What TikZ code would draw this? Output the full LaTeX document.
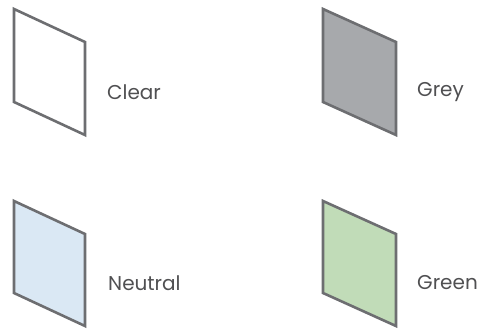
\documentclass[tikz,border=0pt]{standalone}
\usepackage{fontspec}
\setmainfont{Poppins}
\definecolor{edge}{HTML}{6D6E71}
\definecolor{txt}{HTML}{505052}
\definecolor{greyfill}{HTML}{A7A9AC}
\definecolor{neutralfill}{HTML}{DAE8F4}
\definecolor{greenfill}{HTML}{C1DCB8}
\tikzset{
  pane/.style={draw=edge, line width=2.6pt, line join=miter},
  lbl/.style={anchor=west, text=txt, font=\fontsize{20}{23}\selectfont, inner sep=0pt}
}
\begin{document}
\begin{tikzpicture}[x=1pt,y=-1pt]
\useasboundingbox (0,0) rectangle (481,329);
\filldraw[pane, fill=white] (14,9) -- (85,42) -- (85,135) -- (14,102) -- cycle;
\node[lbl] (clear) at (107,92) {Clear};
\filldraw[pane, fill=greyfill] (323,9) -- (396,42) -- (396,135) -- (323,102) -- cycle;
\node[lbl] (grey) at (417,92) {Grey};
\filldraw[pane, fill=neutralfill] (14,201) -- (85,234) -- (85,326) -- (14,293) -- cycle;
\node[lbl] (neutral) at (108,283) {Neutral};
\filldraw[pane, fill=greenfill] (323,201) -- (396,234) -- (396,326) -- (323,293) -- cycle;
\node[lbl] (green) at (417,283) {Green};
\end{tikzpicture}
\end{document}
